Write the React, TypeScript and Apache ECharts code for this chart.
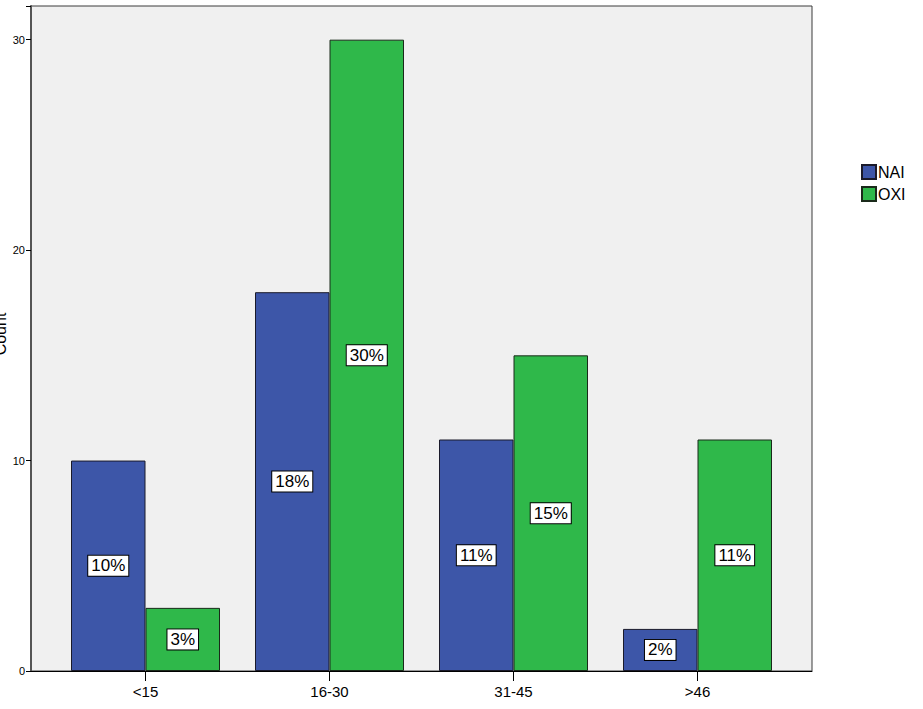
import React, { useEffect, useRef } from "react";
import * as echarts from "echarts";

const categories = ["<15", "16-30", "31-45", ">46"];
const naiValues = [10, 18, 11, 2];
const oxiValues = [3, 30, 15, 11];
const naiLabels = ["10%", "18%", "11%", "2%"];
const oxiLabels = ["3%", "30%", "15%", "11%"];
const yTicks = [0, 10, 20, 30];
const yAxisTitle = "Count";

const FONT = 'Arial, "Liberation Sans", sans-serif';

export default function App() {
  const ref = useRef<HTMLDivElement>(null);
  useEffect(() => {
    if (!ref.current) return;
    const chart = echarts.init(ref.current, undefined, { renderer: "svg" });
    const yMax = 31.6;
    const labelStyle = (labels: string[]) => ({
      show: true,
      position: "inside",
      formatter: (p: any) => labels[p.dataIndex],
      color: "#000",
      fontFamily: FONT,
      fontSize: 17,
      backgroundColor: "#fff",
      borderColor: "#000",
      borderWidth: 1,
      padding: [2, 3, 1, 3],
    });
    chart.setOption({
      animation: false,
      backgroundColor: "#fff",
      textStyle: { fontFamily: FONT },
      graphic: [
        {
          type: "text",
          x: 8,
          y: 334,
          rotation: Math.PI / 2,
          style: {
            text: yAxisTitle,
            fill: "#000",
            font: `16px ${FONT}`,
            align: "center",
            verticalAlign: "bottom",
          },
        },
      ],
      legend: {
        orient: "vertical",
        left: 856,
        top: 159,
        itemWidth: 14,
        itemHeight: 14,
        itemGap: 6,
        icon: "rect",
        textStyle: { fontSize: 16, color: "#000", fontFamily: FONT, padding: [0, 0, 0, -3] },
        data: ["NAI", "OXI"],
      },
      grid: [
        {
          left: 31,
          right: 111,
          top: 6,
          bottom: 38,
          show: true,
          backgroundColor: "#f0f0f0",
          borderColor: "#3a3a3a",
          borderWidth: 1,
        },
        {
          left: 53.5,
          width: 736,
          top: 6,
          bottom: 38,
        },
      ],
      xAxis: [
        {
          gridIndex: 0,
          type: "category",
          data: categories,
          axisLine: { show: true, lineStyle: { color: "#000", width: 1 } },
          axisTick: { show: false },
          axisLabel: { show: false },
          splitLine: { show: false },
        },
        {
          gridIndex: 1,
          type: "category",
          data: categories,
          axisLine: { show: false },
          axisTick: { show: true, alignWithLabel: true, length: 10, lineStyle: { color: "#000" } },
          axisLabel: { color: "#000", fontSize: 15, fontFamily: FONT, margin: 13 },
        },
      ],
      yAxis: [
        {
          gridIndex: 0,
          type: "value",
          min: 0,
          max: yMax,
          interval: 10,
          axisLine: { show: true, lineStyle: { color: "#555", width: 2 } },
          axisTick: { show: true, length: 5, lineStyle: { color: "#000" } },
          axisLabel: {
            color: "#000",
            fontSize: 11,
            fontFamily: FONT,
            margin: 6,
            formatter: (v: number) => (yTicks.includes(v) ? String(v) : ""),
          },
          splitLine: { show: false },
        },
        {
          gridIndex: 1,
          type: "value",
          min: 0,
          max: yMax,
          interval: 10,
          show: false,
          splitLine: { show: false },
        },
      ],
      series: [
        {
          name: "NAI",
          type: "bar",
          xAxisIndex: 1,
          yAxisIndex: 1,
          data: naiValues,
          barWidth: 74.5,
          barGap: "0%",
          itemStyle: { color: "#3d56a8", borderColor: "#1a1a2a", borderWidth: 1 },
          label: labelStyle(naiLabels),
        },
        {
          name: "OXI",
          type: "bar",
          xAxisIndex: 1,
          yAxisIndex: 1,
          data: oxiValues,
          barWidth: 74.5,
          barGap: "0%",
          itemStyle: { color: "#2fb84a", borderColor: "#1a2a1a", borderWidth: 1 },
          label: labelStyle(oxiLabels),
        },
      ],
    });
    return () => chart.dispose();
  }, []);
  return (
    <div
      ref={ref}
      style={{ position: "absolute", left: 0, top: 0, width: 923, height: 709 }}
    />
  );
}
